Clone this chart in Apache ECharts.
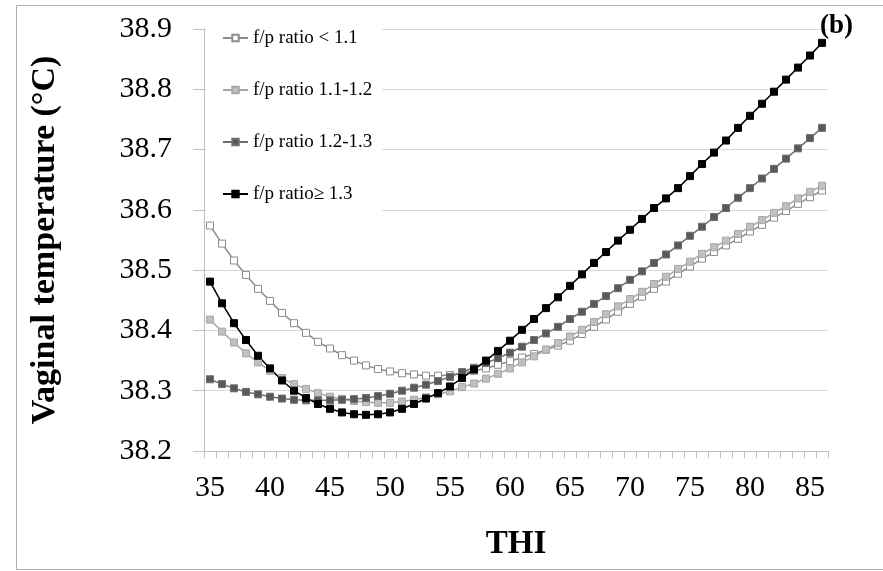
<!DOCTYPE html>
<html>
<head>
<meta charset="utf-8">
<title>Vaginal temperature vs THI</title>
<script src="https://cdn.jsdelivr.net/npm/echarts@6/dist/echarts.min.js"></script>
<style>
  html, body { margin: 0; padding: 0; background: #fff; }
  #chart { width: 883px; height: 571px; }
</style>
</head>
<body>
<div id="chart"></div>
<script>
// x axis: THI, one point per unit
const thi = ['35', '36', '37', '38', '39', '40', '41', '42', '43', '44',
  '45', '46', '47', '48', '49', '50', '51', '52', '53', '54',
  '55', '56', '57', '58', '59', '60', '61', '62', '63', '64',
  '65', '66', '67', '68', '69', '70', '71', '72', '73', '74',
  '75', '76', '77', '78', '79', '80', '81', '82', '83', '84',
  '85', '86']

// vaginal temperature (°C) per f/p ratio group
const ratioBelow11 = [38.574, 38.544, 38.516, 38.492, 38.469, 38.449, 38.429, 38.412, 38.396, 38.381,
  38.370, 38.359, 38.350, 38.342, 38.336, 38.332, 38.329, 38.327, 38.325, 38.325,
  38.326, 38.329, 38.333, 38.337, 38.343, 38.349, 38.355, 38.361, 38.368, 38.375,
  38.383, 38.394, 38.406, 38.418, 38.431, 38.444, 38.456, 38.469, 38.481, 38.494,
  38.506, 38.519, 38.530, 38.541, 38.552, 38.564, 38.575, 38.587, 38.598, 38.610,
  38.621, 38.632]
const ratio11to12 = [38.418, 38.398, 38.380, 38.362, 38.347, 38.333, 38.321, 38.311, 38.303, 38.296,
  38.290, 38.286, 38.283, 38.281, 38.280, 38.280, 38.282, 38.285, 38.289, 38.294,
  38.299, 38.306, 38.312, 38.320, 38.328, 38.337, 38.347, 38.357, 38.368, 38.379,
  38.390, 38.401, 38.414, 38.427, 38.440, 38.452, 38.464, 38.477, 38.489, 38.502,
  38.514, 38.527, 38.538, 38.549, 38.560, 38.572, 38.583, 38.595, 38.606, 38.619,
  38.630, 38.640]
const ratio12to13 = [38.319, 38.311, 38.304, 38.298, 38.294, 38.290, 38.287, 38.285, 38.284, 38.284,
  38.284, 38.285, 38.286, 38.288, 38.291, 38.295, 38.300, 38.305, 38.310, 38.316,
  38.323, 38.331, 38.338, 38.346, 38.354, 38.363, 38.373, 38.384, 38.395, 38.406,
  38.419, 38.431, 38.444, 38.457, 38.470, 38.484, 38.498, 38.512, 38.526, 38.541,
  38.557, 38.572, 38.588, 38.603, 38.620, 38.636, 38.652, 38.668, 38.685, 38.702,
  38.719, 38.736]
const ratioAbove13 = [38.481, 38.445, 38.412, 38.384, 38.358, 38.337, 38.317, 38.300, 38.288, 38.278,
  38.270, 38.264, 38.261, 38.260, 38.261, 38.264, 38.270, 38.278, 38.287, 38.296,
  38.307, 38.321, 38.335, 38.350, 38.366, 38.383, 38.401, 38.419, 38.437, 38.455,
  38.474, 38.493, 38.512, 38.530, 38.549, 38.567, 38.585, 38.603, 38.619, 38.636,
  38.656, 38.676, 38.695, 38.715, 38.736, 38.756, 38.776, 38.796, 38.816, 38.836,
  38.856, 38.877]

const seriesNames = ['f/p ratio < 1.1', 'f/p ratio 1.1-1.2', 'f/p ratio 1.2-1.3', 'f/p ratio\u2265 1.3']

const serif = "'Liberation Serif', 'Times New Roman', serif"

const makeSeries = (name, data, fill, stroke) => ({
  name,
  type: 'line',
  data,
  symbol: 'rect',
  symbolSize: 7,
  itemStyle: { color: fill, borderColor: stroke, borderWidth: 1 },
  lineStyle: { color: stroke, width: 1.5 },
  emphasis: { disabled: true }
})

const myChart = echarts.init(document.getElementById('chart'))
myChart.setOption({
  animation: false,
  backgroundColor: '#fff',
  textStyle: { fontFamily: serif },
  title: {
    text: '(b)',
    left: 815,
    top: 8,
    textStyle: { fontFamily: serif, fontSize: 27, fontWeight: 'bold', color: '#000' }
  },
  // outer frame of the figure
  graphic: [{
    type: 'rect',
    shape: { x: 16.5, y: 5.5, width: 880, height: 564 },
    style: { fill: 'none', stroke: '#b0b0b0', lineWidth: 1 },
    silent: true
  }],
  legend: {
    orient: 'vertical',
    left: 206,
    top: 18,
    padding: [10, 10, 13, 16],
    itemGap: 32,
    itemWidth: 25,
    itemHeight: 8,
    backgroundColor: '#fff',
    textStyle: { fontFamily: serif, fontSize: 19, color: '#000', lineHeight: 20 },
    data: seriesNames
  },
  grid: {
    left: 204,
    top: 29,
    right: 55,
    bottom: 120,
    containLabel: false
  },
  xAxis: {
    type: 'category',
    data: thi,
    name: 'THI',
    nameLocation: 'middle',
    nameGap: 77,
    nameTextStyle: { fontFamily: serif, fontSize: 33, fontWeight: 'bold', color: '#000' },
    axisLine: { lineStyle: { color: '#bfbfbf' } },
    axisTick: { show: true, interval: 0, length: 7, lineStyle: { color: '#bfbfbf' } },
    axisLabel: { interval: 4, margin: 22, fontFamily: serif, fontSize: 30, color: '#000' },
    splitLine: { show: false }
  },
  yAxis: {
    type: 'value',
    min: 38.2,
    max: 38.9,
    interval: 0.1,
    name: 'Vaginal temperature (°C)',
    nameLocation: 'middle',
    nameGap: 142,
    nameTextStyle: { fontFamily: serif, fontSize: 34, fontWeight: 'bold', color: '#000' },
    axisLine: { show: true, lineStyle: { color: '#bfbfbf' } },
    axisTick: { show: true, length: 11, lineStyle: { color: '#bfbfbf' } },
    axisLabel: {
      margin: 32,
      fontFamily: serif,
      fontSize: 30,
      color: '#000',
      formatter: (v) => v.toFixed(1)
    },
    splitLine: { lineStyle: { color: '#d9d9d9' } }
  },
  series: [
    makeSeries(seriesNames[0], ratioBelow11, '#ffffff', '#8c8c8c'),
    makeSeries(seriesNames[1], ratio11to12, '#c0c0c0', '#a6a6a6'),
    makeSeries(seriesNames[2], ratio12to13, '#595959', '#6e6e6e'),
    makeSeries(seriesNames[3], ratioAbove13, '#000000', '#000000')
  ]
})
</script>
</body>
</html>
